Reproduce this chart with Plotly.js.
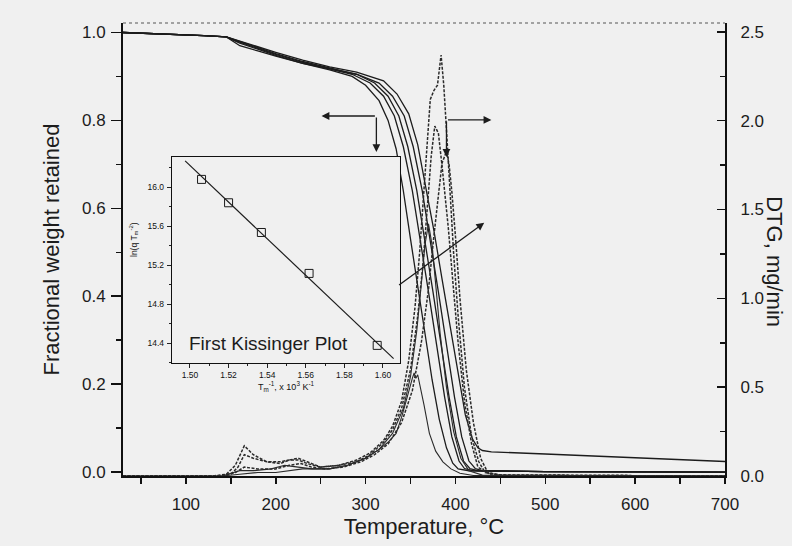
<!DOCTYPE html>
<html><head><meta charset="utf-8">
<script src="https://cdn.plot.ly/plotly-3.0.1.min.js"></script>
<style>html,body{margin:0;padding:0;background:#f0f0f0}#chart{width:792px;height:546px}</style>
</head><body><div id="chart"></div>
<script>
// ---- TG curves (fractional weight retained, left axis) ----
const tg1X = [30,80,120,145,160,180,200,230,260,285,300,315,325,334,342,350,358,366,374,382,390,397,403,415,500,700];
const tg1Y = [1.0,0.997,0.993,0.99,0.976,0.962,0.948,0.93,0.915,0.9,0.88,0.845,0.8,0.735,0.64,0.53,0.42,0.31,0.21,0.12,0.055,0.02,0.007,0.003,0.001,0];
const tg2X = [30,80,120,145,160,180,200,230,260,285,305,320,332,342,352,361,370,379,388,396,404,410,420,500,700];
const tg2Y = [1.0,0.997,0.993,0.99,0.978,0.964,0.95,0.932,0.917,0.905,0.885,0.855,0.81,0.74,0.64,0.53,0.41,0.29,0.17,0.08,0.025,0.008,0.003,0.001,0];
const tg3X = [30,80,120,145,160,180,200,230,260,290,310,325,337,347,357,366,375,384,393,401,409,416,425,500,700];
const tg3Y = [1.0,0.997,0.993,0.99,0.98,0.966,0.952,0.934,0.92,0.905,0.885,0.855,0.81,0.74,0.64,0.53,0.41,0.29,0.17,0.08,0.025,0.008,0.003,0.001,0];
const tg4X = [30,80,120,145,160,180,200,230,260,290,315,330,343,353,363,372,381,390,399,407,415,422,430,500,700];
const tg4Y = [1.0,0.997,0.993,0.99,0.97,0.958,0.946,0.93,0.918,0.905,0.885,0.855,0.81,0.74,0.64,0.53,0.41,0.29,0.17,0.08,0.025,0.008,0.003,0.001,0];
const tg5X = [30,80,120,145,160,180,200,230,260,290,320,335,348,358,367,376,385,394,403,411,419,425,430,440,500,600,700];
const tg5Y = [1.0,0.997,0.993,0.99,0.98,0.968,0.955,0.937,0.922,0.91,0.89,0.86,0.815,0.745,0.65,0.55,0.44,0.33,0.22,0.13,0.075,0.055,0.049,0.046,0.041,0.033,0.024];

// ---- DTG curves (mg/min, right axis) ----
const d1X = [30,130,145,155,165,175,190,205,215,225,235,250,270,290,305,320,330,340,348,355,360,364,368,372,376,380,384,387,390,394,398,403,410,418,426,433,450,700];
const d1Y = [0,0,0.01,0.06,0.17,0.12,0.08,0.07,0.09,0.10,0.08,0.05,0.06,0.09,0.13,0.2,0.28,0.42,0.65,0.95,1.25,1.55,1.85,2.12,2.17,2.2,2.37,2.2,1.95,1.6,1.25,0.9,0.5,0.22,0.08,0.02,0.005,0];
const d2X = [30,135,150,158,165,175,190,205,215,225,235,250,270,290,305,320,330,340,350,358,364,369,373,377,381,385,388,392,397,403,410,418,425,440,700];
const d2Y = [0,0,0.01,0.05,0.12,0.1,0.08,0.08,0.09,0.09,0.07,0.05,0.06,0.08,0.12,0.19,0.26,0.38,0.6,0.9,1.2,1.55,1.8,1.97,1.93,1.75,1.6,1.4,1.1,0.75,0.42,0.18,0.05,0.005,0];
const d3X = [30,140,155,165,180,200,215,228,240,255,275,295,310,325,340,352,362,370,376,381,385,388,390,393,396,400,405,412,420,428,436,450,700];
const d3Y = [0,0,0.02,0.05,0.04,0.04,0.06,0.07,0.05,0.04,0.05,0.08,0.12,0.18,0.3,0.48,0.75,1.05,1.35,1.6,1.76,1.8,1.83,1.75,1.6,1.35,1.0,0.6,0.3,0.1,0.02,0.005,0];
const d4X = [30,140,160,175,195,210,225,240,260,280,300,315,330,342,350,357,362,366,370,374,378,383,390,398,406,415,430,700];
const d4Y = [0,0,0.03,0.03,0.04,0.06,0.05,0.04,0.04,0.06,0.1,0.15,0.24,0.38,0.56,0.82,1.08,1.3,1.42,1.3,1.08,0.8,0.5,0.25,0.1,0.03,0.005,0];
const d5X = [30,140,160,180,200,215,230,245,260,280,300,315,325,334,340,345,349,352,354,356,358,361,365,371,378,386,395,405,420,700];
const d5Y = [0,0,0.01,0.02,0.02,0.03,0.04,0.04,0.04,0.06,0.1,0.15,0.19,0.24,0.33,0.42,0.5,0.55,0.58,0.55,0.57,0.5,0.4,0.24,0.14,0.08,0.04,0.015,0.003,0];

// ---- Inset: first Kissinger plot ----
const kissX = [1.506, 1.520, 1.537, 1.5617, 1.597];
const kissY = [16.08, 15.84, 15.535, 15.115, 14.376];
const fitX = [1.4975, 1.6055];
const fitY = [16.27, 14.24];

// tick values
const xTicks = [100,200,300,400,500,600,700];
const yTicks = [0.0,0.2,0.4,0.6,0.8,1.0];
const y2Ticks = [0.0,0.5,1.0,1.5,2.0,2.5];
const insetXTicks = [1.50,1.52,1.54,1.56,1.58,1.60];
const insetYTicks = [14.4,14.8,15.2,15.6,16.0];

const FONT = 'Liberation Sans, Arial, sans-serif';
const INK = '#1c1c1c';

const traces = [];
[[tg1X,tg1Y],[tg2X,tg2Y],[tg3X,tg3Y],[tg4X,tg4Y],[tg5X,tg5Y]].forEach(function(p){
  traces.push({x:p[0], y:p[1], mode:'lines', xaxis:'x', yaxis:'y', hoverinfo:'skip',
    line:{color:INK, width:1.3}});
});
[[d1X,d1Y,'3px,1.5px',1.5],[d2X,d2Y,'3px,1.5px',1.5],[d3X,d3Y,'3px,1.5px',1.5],[d4X,d4Y,'solid',1.1],[d5X,d5Y,'solid',1.1]].forEach(function(p){
  traces.push({x:p[0], y:p[1], mode:'lines', xaxis:'x', yaxis:'y2', hoverinfo:'skip',
    line:{color:'#2a2a2a', width:p[3], dash:p[2]}});
});
traces.push({x:fitX, y:fitY, mode:'lines', xaxis:'x3', yaxis:'y3', line:{color:INK, width:1.2}});
traces.push({x:kissX, y:kissY, mode:'markers', xaxis:'x3', yaxis:'y3',
  marker:{symbol:'square-open', size:8, color:INK, line:{width:1, color:INK}}});

const axBase = {showgrid:false, zeroline:false, showline:true, linecolor:'#111', color:INK};

const layout = {
  width:792, height:546,
  margin:{l:123, r:67, t:23, b:70},
  paper_bgcolor:'#f0f0f0', plot_bgcolor:'#f0f0f0',
  showlegend:false,
  font:{family:FONT, color:INK},
  xaxis: Object.assign({}, axBase, {
    range:[30,700], linewidth:2, ticks:'outside', ticklen:6, tickwidth:1.5, tickcolor:'#111',
    tickvals:xTicks, ticktext:xTicks.map(String), ticklabelstandoff:6,
    minor:{dtick:50, tick0:0, ticks:'outside', ticklen:6, tickwidth:1.5, tickcolor:'#111'},
    tickfont:{family:FONT, size:17, color:INK},
    title:{text:'Temperature, °C', font:{family:FONT, size:22, color:INK}, standoff:5}
  }),
  yaxis: Object.assign({}, axBase, {
    range:[-0.009,1.0216], linewidth:2, ticks:'outside', ticklen:10, tickwidth:1.5, tickcolor:'#111',
    tickvals:yTicks, ticktext:yTicks.map(function(v){return v.toFixed(1);}), ticklabelstandoff:2,
    minor:{dtick:0.1, tick0:0, ticks:'outside', ticklen:5, tickwidth:1.5, tickcolor:'#111'},
    tickfont:{family:FONT, size:17, color:INK},
    title:{text:'Fractional weight retained', font:{family:FONT, size:22, color:INK}, standoff:16}
  }),
  yaxis2: Object.assign({}, axBase, {
    overlaying:'y', side:'right', anchor:'x',
    range:[0,2.55], linewidth:2, ticks:'inside', ticklen:8, tickwidth:1.5, tickcolor:'#111',
    tickvals:y2Ticks, ticktext:y2Ticks.map(function(v){return v.toFixed(1);}), ticklabelstandoff:10,
    minor:{dtick:0.25, tick0:0, ticks:'inside', ticklen:5, tickwidth:1.5, tickcolor:'#111'},
    tickfont:{family:FONT, size:17, color:INK}
  }),
  xaxis3: Object.assign({}, axBase, {
    domain:[0.0814,0.4601], anchor:'y3', range:[1.4907,1.6088], linewidth:1.2, mirror:true,
    ticks:'outside', ticklen:4, tickwidth:1, tickcolor:'#222',
    tickvals:insetXTicks, ticktext:insetXTicks.map(function(v){return v.toFixed(2);}), ticklabelstandoff:0,
    minor:{dtick:0.01, tick0:1.50, ticks:'outside', ticklen:2, tickwidth:1, tickcolor:'#222'},
    tickfont:{family:FONT, size:8.5, color:'#111'}
  }),
  yaxis3: Object.assign({}, axBase, {
    domain:[0.2494,0.7042], anchor:'x3', range:[14.195,16.31], linewidth:1.2, mirror:true,
    ticks:'outside', ticklen:4, tickwidth:1, tickcolor:'#222',
    tickvals:insetYTicks, ticktext:insetYTicks.map(function(v){return v.toFixed(1);}), ticklabelstandoff:1,
    minor:{dtick:0.2, tick0:14.4, ticks:'outside', ticklen:2, tickwidth:1, tickcolor:'#222'},
    tickfont:{family:FONT, size:8.5, color:'#111'}
  }),
  shapes:[
    {type:'rect', xref:'x3 domain', yref:'y3 domain', x0:0, x1:1, y0:0, y1:1, layer:'below',
     fillcolor:'#f0f0f0', line:{color:'#222', width:1.2}},
    {type:'line', xref:'paper', yref:'paper', x0:0, x1:1, y0:1, y1:1, layer:'above',
     line:{color:'#555', width:1.2, dash:'dot'}}
  ],
  annotations:[
    {xref:'x3', yref:'y3', x:1.5407, y:14.40, xanchor:'center', yanchor:'middle', text:'First Kissinger Plot', showarrow:false,
     font:{family:FONT, size:19, color:INK}},
    {xref:'paper', yref:'paper', x:0.2724, y:0.197, xanchor:'center', yanchor:'middle', text:'T<sub>m</sub><sup>-1</sup>, x 10<sup>3</sup> K<sup>-1</sup>',
     showarrow:false, font:{family:FONT, size:9, color:'#111'}},
    {xref:'paper', yref:'paper', x:0.0183, y:0.521, xanchor:'center', yanchor:'middle', text:'ln(q T<sub>m</sub><sup>-2</sup>)', textangle:-90,
     showarrow:false, font:{family:FONT, size:8.5, color:'#111'}},
    {xref:'paper', yref:'paper', x:1.0830, y:0.472, xanchor:'center', yanchor:'middle', text:'DTG, mg/min', textangle:90,
     showarrow:false, font:{family:FONT, size:22, color:INK}},
    // arrows (head at x,y; tail at ax,ay)
    {xref:'x', yref:'y', axref:'x', ayref:'y', x:251, y:0.810, ax:312, ay:0.810, text:'', showarrow:true,
     arrowhead:2, arrowsize:1.2, arrowwidth:1.3, arrowcolor:INK},
    {xref:'x', yref:'y', axref:'x', ayref:'y', x:312, y:0.728, ax:312, ay:0.810, text:'', showarrow:true,
     arrowhead:2, arrowsize:1.2, arrowwidth:1.3, arrowcolor:INK},
    {xref:'x', yref:'y', axref:'x', ayref:'y', x:440, y:0.801, ax:390, ay:0.801, text:'', showarrow:true,
     arrowhead:2, arrowsize:1.2, arrowwidth:1.3, arrowcolor:INK},
    {xref:'x', yref:'y', axref:'x', ayref:'y', x:390, y:0.717, ax:390, ay:0.801, text:'', showarrow:true,
     arrowhead:2, arrowsize:1.2, arrowwidth:1.3, arrowcolor:INK},
    {xref:'x', yref:'y', axref:'x', ayref:'y', x:432, y:0.567, ax:335.6, ay:0.423, text:'', showarrow:true,
     arrowhead:2, arrowsize:1.2, arrowwidth:1.3, arrowcolor:INK}
  ]
};

Plotly.newPlot('chart', traces, layout, {staticPlot:true, displayModeBar:false});
</script>
</body></html>
